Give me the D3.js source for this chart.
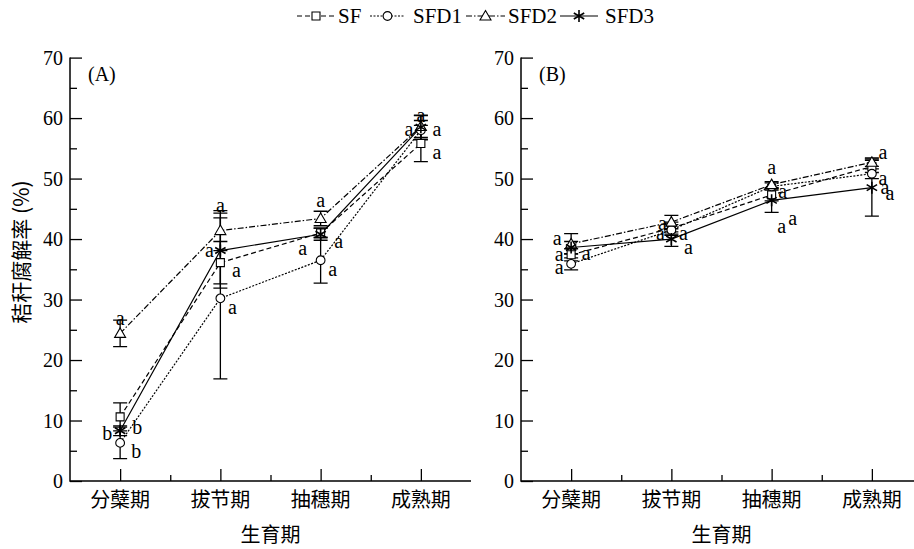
<!DOCTYPE html>
<html>
<head>
<meta charset="utf-8">
<script src="https://cdn.jsdelivr.net/npm/d3@7"></script>
<style>
  body { margin: 0; background: #fff; }
  text { fill: #000; }
</style>
</head>
<body>
<div id="chart"></div>
<script>
// Categories and series
const categories = ['分蘖期', '拔节期', '抽穗期', '成熟期'];
const seriesNames = ['SF', 'SFD1', 'SFD2', 'SFD3'];
const yTicks = [0, 10, 20, 30, 40, 50, 60, 70];

// Panel A means and standard errors
const aSF   = [10.6, 36.1, 41.0, 55.8];
const aSFD1 = [6.3, 30.2, 36.5, 58.0];
const aSFD2 = [24.4, 41.4, 43.4, 58.6];
const aSFD3 = [8.3, 38.1, 40.8, 58.5];
const aErrSF   = [2.3, 3.5, 0.8, 3.0];
const aErrSFD1 = [2.6, 13.3, 3.8, 1.6];
const aErrSFD2 = [2.2, 3.3, 1.2, 1.8];
const aErrSFD3 = [0.8, 6.2, 1.0, 2.0];

// Panel B means and standard errors
const bSF   = [37.4, 41.8, 47.3, 52.0];
const bSFD1 = [35.9, 41.5, 48.7, 50.8];
const bSFD2 = [39.2, 42.8, 49.0, 52.7];
const bSFD3 = [38.6, 40.0, 46.4, 48.5];
const bErrSF   = [1.0, 1.0, 1.0, 1.0];
const bErrSFD1 = [1.0, 0.9, 0.6, 0.8];
const bErrSFD2 = [1.7, 1.1, 0.5, 0.7];
const bErrSFD3 = [1.0, 1.2, 2.0, 4.7];

// Significance letters: [category index, text, value level]
const aLetters = [
  [0, 'b', 7.9], [0, 'b', 8.8], [0, 'b', 4.8], [0, 'a', 26.9],
  [1, 'a', 45.6], [1, 'a', 38.1], [1, 'a', 34.8], [1, 'a', 28.7],
  [2, 'a', 46.4], [2, 'a', 38.5], [2, 'a', 39.5], [2, 'a', 35.0],
  [3, 'a', 60.4], [3, 'a', 58.1], [3, 'a', 58.1], [3, 'a', 54.3]
];
const bLetters = [
  [0, 'a', 40.1], [0, 'a', 37.5], [0, 'a', 35.2], [0, 'a', 37.6],
  [1, 'a', 42.6], [1, 'a', 40.9], [1, 'a', 40.9], [1, 'a', 38.6],
  [2, 'a', 51.8], [2, 'a', 47.9], [2, 'a', 42.1], [2, 'a', 43.4],
  [3, 'a', 54.3], [3, 'a', 50.0], [3, 'a', 48.5], [3, 'a', 47.5]
];
// horizontal nudges (px) of the letters, same order
const aLetterDx = [-13, 17, 16, 0, 0, -11, 16, 12, 0, -18, 18, 12, 0, -12, 16, 16];
const bLetterDx = [-14, -12, -12, 15, -9, -11, 12, 17, 0, 11, 10, 21, 11, 11, 13, 18];

const dashes = { SF: '5,3', SFD1: '2,1.5', SFD2: '6,2,1.5,2', SFD3: null };
const serif = '"Liberation Serif", "Times New Roman", serif';
const cjk = '"Noto Sans CJK SC", sans-serif';

const W = 914, H = 549;
const svg = d3.select('#chart').append('svg')
    .attr('width', W).attr('height', H);

const yScale = d3.scaleLinear().domain([0, 70]).range([481, 57.6]);

// marker path generator
function markerPath(name) {
  if (name === 'SF') return 'M-4,-4H4V4H-4Z';
  if (name === 'SFD1') return d3.symbol(d3.symbolCircle, 60)();
  if (name === 'SFD2') return 'M0,-5.5L5.5,4L-5.5,4Z';
  // asterisk
  const r = 6, p = [];
  [90, 30, 150].forEach(a => {
    const dx = r * Math.cos(a * Math.PI / 180), dy = r * Math.sin(a * Math.PI / 180);
    p.push(`M${-dx},${-dy}L${dx},${dy}`);
  });
  return p.join('');
}

function drawPanel(x0, label, means, errs, letters, letterDx) {
  const xScale = d3.scaleLinear().domain([0.5, 4.5]).range([x0, x0 + 401]);
  const g = svg.append('g');

  // y axis
  const yAxisMajor = d3.axisRight(yScale).tickValues(yTicks).tickSize(12).tickFormat('');
  g.append('g').attr('transform', `translate(${x0},0)`).call(yAxisMajor)
    .call(s => s.select('.domain').remove());
  g.append('g').attr('transform', `translate(${x0},0)`)
    .call(d3.axisRight(yScale).tickValues(d3.range(5, 70, 10)).tickSize(7).tickFormat(''))
    .call(s => s.select('.domain').remove());
  g.selectAll('.ylab').data(yTicks).enter().append('text')
    .attr('x', x0 - 7).attr('y', d => yScale(d))
    .attr('dy', '0.35em').attr('text-anchor', 'end')
    .style('font-family', serif).style('font-size', '20px')
    .text(d => d);

  // x axis
  g.append('g').attr('transform', 'translate(0,481)')
    .call(d3.axisTop(xScale).tickValues([1, 2, 3, 4]).tickSize(12).tickFormat(''))
    .call(s => s.select('.domain').remove());
  g.append('g').attr('transform', 'translate(0,481)')
    .call(d3.axisTop(xScale).tickValues([1.5, 2.5, 3.5]).tickSize(6).tickFormat(''))
    .call(s => s.select('.domain').remove());
  g.selectAll('.tick line').attr('stroke', '#000').attr('stroke-width', 1.3);
  g.selectAll('.xlab').data(categories).enter().append('text')
    .attr('x', (d, i) => xScale(i + 1)).attr('y', 507)
    .attr('text-anchor', 'middle')
    .style('font-family', cjk).style('font-size', '20px')
    .text(d => d);
  g.append('text').attr('x', xScale(2.5)).attr('y', 542)
    .attr('text-anchor', 'middle')
    .style('font-family', cjk).style('font-size', '20px').text('生育期');

  // axis lines
  g.append('path')
    .attr('d', `M${x0},${yScale(70)}V481H${x0 + 401}`)
    .attr('fill', 'none').attr('stroke', '#000').attr('stroke-width', 1.5);

  g.append('text').attr('x', x0 + 18).attr('y', 81)
    .style('font-family', serif).style('font-size', '20px').text(label);

  const line = d3.line().x((d, i) => xScale(i + 1)).y(d => yScale(d));

  // lines
  seriesNames.forEach((name, k) => {
    g.append('path').attr('d', line(means[k]))
      .attr('fill', 'none').attr('stroke', '#000').attr('stroke-width', 1.2)
      .attr('stroke-dasharray', dashes[name]);
  });

  // error bars
  seriesNames.forEach((name, k) => {
    means[k].forEach((m, i) => {
      const x = xScale(i + 1), e = errs[k][i];
      const yt = yScale(m + e), yb = yScale(m - e);
      g.append('path')
        .attr('d', `M${x},${yt}V${yb}M${x - 7},${yt}H${x + 7}M${x - 7},${yb}H${x + 7}`)
        .attr('fill', 'none').attr('stroke', '#000').attr('stroke-width', 1.3);
    });
  });

  // markers
  seriesNames.forEach((name, k) => {
    g.selectAll(null).data(means[k]).enter().append('path')
      .attr('transform', (d, i) => `translate(${xScale(i + 1)},${yScale(d)})`)
      .attr('d', markerPath(name))
      .attr('fill', name === 'SFD3' ? 'none' : '#fff')
      .attr('stroke', '#000').attr('stroke-width', name === 'SFD3' ? 1.6 : 1.1);
  });

  // letters
  g.selectAll(null).data(letters).enter().append('text')
    .attr('x', (d, i) => xScale(d[0] + 1) + letterDx[i])
    .attr('y', d => yScale(d[2]))
    .attr('dy', '0.32em').attr('text-anchor', 'middle')
    .style('font-family', serif).style('font-size', '20px')
    .text(d => d[1]);
}

drawPanel(70, '(A)', [aSF, aSFD1, aSFD2, aSFD3], [aErrSF, aErrSFD1, aErrSFD2, aErrSFD3], aLetters, aLetterDx);
drawPanel(521, '(B)', [bSF, bSFD1, bSFD2, bSFD3], [bErrSF, bErrSFD1, bErrSFD2, bErrSFD3], bLetters, bLetterDx);

// y axis title
svg.append('text')
  .attr('transform', 'translate(29,252) rotate(-90)')
  .attr('text-anchor', 'middle')
  .style('font-family', cjk).style('font-size', '21px')
  .text('秸秆腐解率 (%)');

// legend: symbol start, symbol width, text start
const legendX = [297, 370, 466, 560];
const legendW = [38, 35, 39, 38];
const legendTextX = [338, 413, 508, 605];
const lg = svg.append('g');
seriesNames.forEach((name, k) => {
  const x = legendX[k], w = legendW[k];
  lg.append('path').attr('d', `M${x},16H${x + w}`)
    .attr('stroke', '#000').attr('stroke-width', 1.2)
    .attr('stroke-dasharray', dashes[name]);
  lg.append('path').attr('transform', `translate(${x + w / 2},16)`)
    .attr('d', markerPath(name))
    .attr('fill', name === 'SFD3' ? 'none' : '#fff')
    .attr('stroke', '#000').attr('stroke-width', name === 'SFD3' ? 1.6 : 1.1);
  lg.append('text').attr('x', legendTextX[k]).attr('y', 16).attr('dy', '0.35em')
    .style('font-family', serif).style('font-size', '21px').text(name);
});
</script>
</body>
</html>
